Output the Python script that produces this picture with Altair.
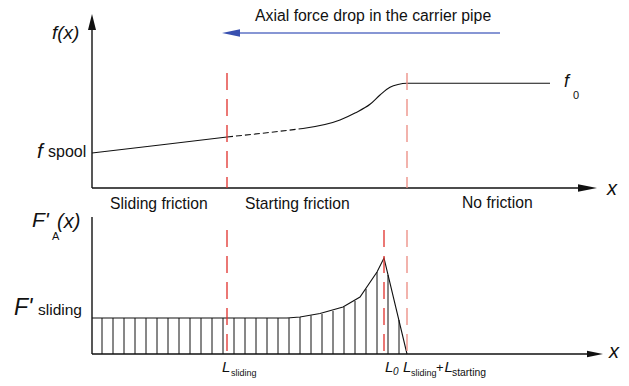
import altair as alt
import pandas as pd

# ---- data (in picture units) ----
# f(x) curve: solid part, dashed part, solid rising part
fa_x = [92, 160, 227]
fa_y = [153, 145, 137]
fb_x = [227, 265, 303]
fb_y = [137, 133, 128.5]
fc_x = [303, 340, 355, 370, 380, 390, 398, 407, 550]
fc_y = [128.5, 120, 113, 104.3, 95, 87.3, 84.5, 83.3, 83.3]

# F'A(x) outline
fa2_x = [92, 287, 300, 320, 343, 360, 377, 384, 407]
fa2_y = [318, 318, 317, 313.5, 307, 297, 272, 258, 354]

# hatch lines under F'A(x)
hatch_x = [102, 113, 124, 135, 146, 157, 168, 179, 190, 201, 212, 223, 234, 245,
           256, 267, 278, 289, 300, 311, 322, 333, 344, 355, 366, 377, 388, 399]
hatch_top = [318, 318, 318, 318, 318, 318, 318, 318, 318, 318, 318, 318, 318, 318,
             318, 318, 318, 318, 317, 315.5, 314, 311, 307, 301, 289, 272, 275, 320]

# axes and arrow line
ax_x1 = [92, 92, 92, 92, 238]
ax_y1 = [22, 188, 217, 354, 33]
ax_x2 = [92, 580, 92, 590, 500]
ax_y2 = [188, 188, 354, 354, 33]
ax_col = ["#111111", "#111111", "#111111", "#111111", "#8796d4"]
ax_w = [1.4, 1.4, 1.4, 1.4, 2.2]

# red dashed markers
rd_x = [227, 407, 227, 384, 407]
rd_y1 = [73, 73, 230, 230, 230]
rd_y2 = [188, 188, 354, 354, 354]
rd_col = ["#e0302c", "#ec8a80", "#e0302c", "#e0302c", "#ec8a80"]

# arrow heads: centre, length, half width, direction
ah_x = [92, 587.5, 595, 231]
ah_y = [22, 188, 354, 33]
ah_len = [16, 19, 16, 18]
ah_hw = [4, 3.8, 3.2, 3.8]
ah_dir = ["up", "right", "right", "left"]
ah_col = ["#111111", "#111111", "#111111", "#3850b0"]

# texts: left x, baseline y, size
tn_text = ["Axial force drop in the carrier pipe", "spool", "Sliding friction",
           "Starting friction", "No friction", "sliding", "+", "A",
           "sliding", "sliding", "starting", "0"]
tn_x = [255, 48, 110, 245, 462, 38, 436, 52, 231, 411, 452, 573]
tn_y = [21, 157, 209, 209, 208, 315, 372, 240, 376, 376, 376, 99]
tn_s = [15.8, 16, 15.7, 15.7, 15.7, 15.5, 13, 11, 9, 9, 10.4, 11]

ti_text = ["f(x)", "f", "f", "x", "F'", "F'", "(x)", "x",
           "L", "L", "0", "L", "L"]
ti_x = [52, 37, 564, 607, 14, 32, 57, 609,
        222, 385, 393, 403, 444.5]
ti_y = [39, 158, 87, 195, 315, 227, 228, 358,
        372, 372, 375, 372, 372]
ti_s = [19, 21, 18, 20, 23, 21, 20, 20,
        15, 15, 10, 15, 15]

# ---- build tables ----
def arrow_path(d, L, hw):
    w = hw / (L / 2)
    if d == "up":
        return f"M0,-1L{-w},1L{w},1Z"
    if d == "right":
        return f"M1,0L-1,{-w}L-1,{w}Z"
    return f"M-1,0L1,{-w}L1,{w}Z"

df_fa = pd.DataFrame({"x": fa_x, "y": fa_y})
df_fb = pd.DataFrame({"x": fb_x, "y": fb_y})
df_fc = pd.DataFrame({"x": fc_x, "y": fc_y})
df_f2 = pd.DataFrame({"x": fa2_x, "y": fa2_y})
df_h = pd.DataFrame({"x": hatch_x, "y": [354] * len(hatch_x), "y2": hatch_top})
df_ax = pd.DataFrame({"x": ax_x1, "y": ax_y1, "x2": ax_x2, "y2": ax_y2,
                      "c": ax_col, "w": ax_w})
df_rd = pd.DataFrame({"x": rd_x, "y": rd_y1, "y2": rd_y2, "c": rd_col})
df_ah = pd.DataFrame({
    "x": ah_x, "y": ah_y, "c": ah_col,
    "shape": [arrow_path(d, L, h) for d, L, h in zip(ah_dir, ah_len, ah_hw)],
    "size": [L * L for L in ah_len],
})
df_tn = pd.DataFrame({"x": tn_x, "y": tn_y, "t": tn_text, "s": tn_s})
df_ti = pd.DataFrame({"x": ti_x, "y": ti_y, "t": ti_text, "s": ti_s})

xs = alt.Scale(domain=[8, 621], nice=False, zero=False)
ys = alt.Scale(domain=[8, 378], nice=False, zero=False, reverse=True)
X = alt.X("x:Q", scale=xs, axis=None)
Y = alt.Y("y:Q", scale=ys, axis=None)

FONT = "Liberation Sans"

curve_a = alt.Chart(df_fa).mark_line(color="#111111", strokeWidth=1.1).encode(x=X, y=Y)
curve_b = alt.Chart(df_fb).mark_line(color="#111111", strokeWidth=1.1,
                                     strokeDash=[6, 3]).encode(x=X, y=Y)
curve_c = alt.Chart(df_fc).mark_line(color="#111111", strokeWidth=1.1,
                                     interpolate="monotone").encode(x=X, y=Y)
curve_2 = alt.Chart(df_f2).mark_line(color="#111111", strokeWidth=1.1).encode(x=X, y=Y)

hatch = alt.Chart(df_h).mark_rule(color="#111111", strokeWidth=1).encode(
    x=X, y=Y, y2="y2:Q")

axes = alt.Chart(df_ax).mark_rule().encode(
    x=X, y=Y, x2="x2:Q", y2="y2:Q",
    color=alt.Color("c:N", scale=None),
    strokeWidth=alt.StrokeWidth("w:Q", scale=None))

reds = alt.Chart(df_rd).mark_rule(strokeWidth=1.3, strokeDash=[17, 9]).encode(
    x=X, y=Y, y2="y2:Q", color=alt.Color("c:N", scale=None))

heads = alt.Chart(df_ah).mark_point(filled=True, opacity=1, strokeWidth=0).encode(
    x=X, y=Y,
    shape=alt.Shape("shape:N", scale=None),
    size=alt.Size("size:Q", scale=None),
    color=alt.Color("c:N", scale=None))

txt_n = alt.Chart(df_tn).mark_text(align="left", baseline="alphabetic", font=FONT,
                                   color="#111111").encode(
    x=X, y=Y, text="t:N", size=alt.Size("s:Q", scale=None))
txt_i = alt.Chart(df_ti).mark_text(align="left", baseline="alphabetic", font=FONT,
                                   fontStyle="italic", color="#111111").encode(
    x=X, y=Y, text="t:N", size=alt.Size("s:Q", scale=None))

chart = alt.layer(hatch, curve_a, curve_b, curve_c, curve_2, axes, reds, heads,
                  txt_n, txt_i).properties(
    width=613, height=370, padding=0, autosize="none", background="white"
).configure_view(stroke=None)

chart.save("out.html", embed_options={"renderer": "svg", "actions": False})
